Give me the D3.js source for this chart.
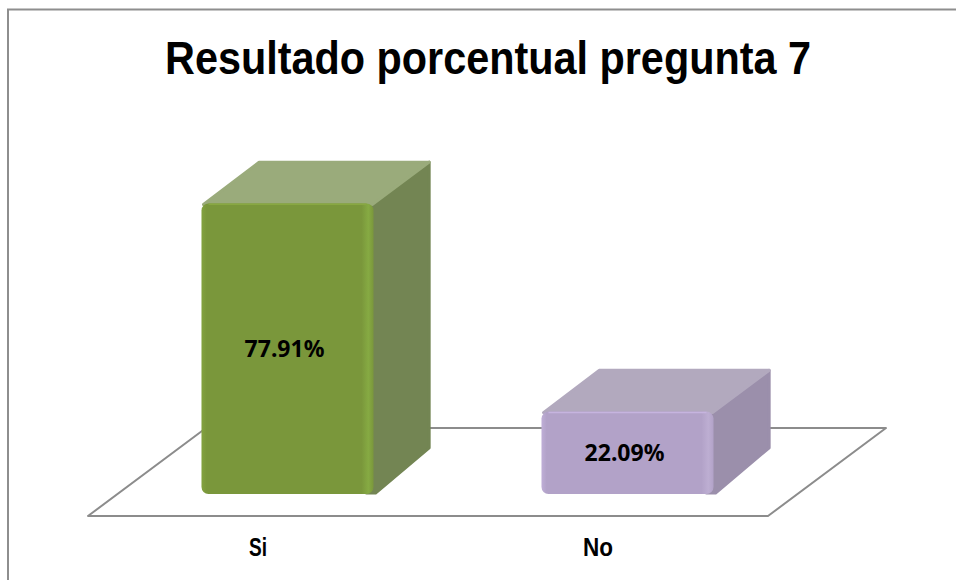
<!DOCTYPE html>
<html>
<head>
<meta charset="utf-8">
<script src="https://cdn.jsdelivr.net/npm/d3@7"></script>
<style>
  body { margin: 0; background: #fff; }
  svg { display: block; }
</style>
</head>
<body>
<div id="wrapper"></div>
<script>
const categories = ['Si', 'No']
const values = [77.91, 22.09]
const valueLabels = ['77.91%', '22.09%']
const title = 'Resultado porcentual pregunta 7'

const frontColors = ['#7a973b', '#b2a2c8']
const topColors = ['#9aab7b', '#b2a9be']
const sideColors = ['#738553', '#9b8fab']
const edgeColors = ['#86aa43', '#bdaed2']

function drawChart() {
    const dimensions = { width: 956, height: 580 }

    // floor of the 3d plot
    const floor = { left: 88, right: 768, y: 516, dx: 118, dy: -88 }
    const barStart = 0.25   // where the bar front sits in depth
    const barDepth = 0.48

    const wrapper = d3.select('#wrapper')
        .append('svg')
        .attr('width', dimensions.width)
        .attr('height', dimensions.height)

    const defs = wrapper.append('defs')
    frontColors.forEach((c, i) => {
        const g = defs.append('linearGradient')
            .attr('id', 'front-' + i)
            .attr('x1', 0).attr('x2', 1).attr('y1', 0).attr('y2', 0)
        g.selectAll('stop')
            .data([
                { o: '0%', c: d3.color(c).brighter(0.2) },
                { o: '3%', c: c },
                { o: '93%', c: c },
                { o: '97%', c: edgeColors[i] },
                { o: '100%', c: c }
            ])
            .enter().append('stop')
            .attr('offset', d => d.o)
            .attr('stop-color', d => d.c)
    })

    // chart frame
    wrapper.append('rect')
        .attr('x', 8).attr('y', 9.5)
        .attr('width', 1000).attr('height', 1000)
        .attr('fill', 'none')
        .attr('stroke', '#8e8e8e')
        .attr('stroke-width', 2)

    wrapper.append('text')
        .attr('x', 488)
        .attr('y', 74)
        .attr('text-anchor', 'middle')
        .attr('textLength', 646)
        .attr('lengthAdjust', 'spacingAndGlyphs')
        .style('font-family', '"Liberation Sans Narrow", "Arial Narrow", "Liberation Sans", Arial, sans-serif')
        .style('font-weight', 'bold')
        .style('font-size', '46px')
        .text(title)

    const xScale = d3.scaleBand()
        .domain(categories)
        .range([floor.left, floor.right])
    const yScale = d3.scaleLinear()
        .domain([0, 100])
        .range([0, 373])

    // floor
    const fp = [
        [floor.left, floor.y],
        [floor.right, floor.y],
        [floor.right + floor.dx, floor.y + floor.dy],
        [floor.left + floor.dx, floor.y + floor.dy]
    ]
    wrapper.append('path')
        .attr('d', d3.line()(fp) + 'Z')
        .attr('fill', '#fff')
        .attr('stroke', '#8c8c8c')
        .attr('stroke-width', 2)
        .attr('stroke-linejoin', 'round')

    const barW = xScale.bandwidth() * 0.506
    const ox = floor.dx * barStart, oy = floor.dy * barStart
    const ddx = floor.dx * barDepth, ddy = floor.dy * barDepth
    const base = floor.y + oy

    const bars = wrapper.selectAll('.bar')
        .data(categories)
        .enter().append('g')
        .attr('class', 'bar')

    bars.each(function(cat, i) {
        const g = d3.select(this)
        const x0 = xScale(cat) + xScale.bandwidth() / 2 + ox - barW / 2
        const x1 = x0 + barW
        const top = base - yScale(values[i])
        const r = 7

        // side face
        g.append('path')
            .attr('d', d3.line()([
                [x1 - r, top + 1], [x1 + ddx - 1, top + ddy + 1], [x1 + ddx - 1, base + ddy - 4],
                [x1 + 2, base - 1], [x1 - r, base - 1]
            ]) + 'Z')
            .attr('fill', sideColors[i])
            .attr('stroke', sideColors[i])
            .attr('stroke-width', 3)
            .attr('stroke-linejoin', 'round')

        // top face
        g.append('path')
            .attr('d', d3.line()([
                [x0 + 2, top + 1], [x0 + ddx + 1, top + ddy + 1], [x1 + ddx - 1, top + ddy + 1], [x1 - 1, top + 1]
            ]) + 'Z')
            .attr('fill', topColors[i])
            .attr('stroke', topColors[i])
            .attr('stroke-width', 3)
            .attr('stroke-linejoin', 'round')

        // front face
        g.append('rect')
            .attr('x', x0).attr('y', top)
            .attr('width', barW).attr('height', base - top)
            .attr('rx', r).attr('ry', r)
            .attr('fill', `url(#front-${i})`)
        g.append('path')
            .attr('d', `M${x0 + r},${top + 0.8} L${x1 - r},${top + 0.8}`)
            .attr('stroke', d3.color(frontColors[i]).brighter(0.3))
            .attr('stroke-width', 1.5)

        g.append('text')
            .attr('x', (x0 + x1) / 2 - 3)
            .attr('y', (top + base) / 2)
            .attr('dy', '0.36em')
            .attr('text-anchor', 'middle')
            .style('font-family', '"Noto Sans", "Open Sans", sans-serif')
            .style('font-weight', 'bold')
            .style('font-size', '23px')
            .style('fill', '#000')
            .text(valueLabels[i])
    })

    // category labels on the floor front edge
    wrapper.selectAll('.cat')
        .data(categories)
        .enter().append('text')
        .attr('class', 'cat')
        .attr('x', d => xScale(d) + xScale.bandwidth() / 2)
        .attr('y', 556)
        .attr('text-anchor', 'middle')
        .attr('textLength', d => d === 'Si' ? 18 : 30)
        .attr('lengthAdjust', 'spacingAndGlyphs')
        .style('font-family', '"Liberation Sans Narrow", "Arial Narrow", "Liberation Sans", Arial, sans-serif')
        .style('font-weight', 'bold')
        .style('font-size', '26px')
        .text(d => d)
}

drawChart()
</script>
</body>
</html>
